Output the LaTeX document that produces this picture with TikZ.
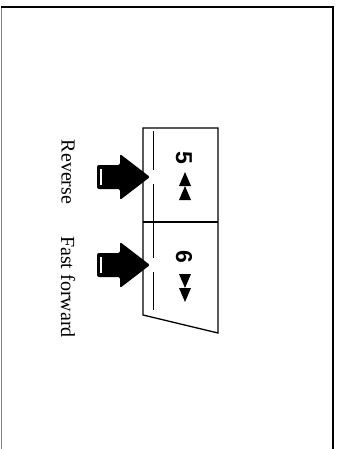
\documentclass[tikz,border=0pt]{standalone}
\usepackage{fontspec}
\setmainfont{Liberation Serif}
\setsansfont{Liberation Sans}
\begin{document}
\begin{tikzpicture}[x=1pt,y=-1pt,
  frame/.style={line width=1.4pt},
  panel/.style={line width=1.3pt},
  label/.style={rotate=-90,font=\fontsize{20}{20}\selectfont,inner sep=0pt},
  key/.style={rotate=-90,font=\sffamily\bfseries\fontsize{23}{23}\selectfont,inner sep=0pt},
  tri/.style={fill=black}]
\useasboundingbox (0,0) rectangle (339,449);
% frame
\draw[line width=0.7pt,gray] (1,449) -- (1,7);
\draw[frame] (1,7) -- (333,7) -- (333,449);
% panel
\draw[panel] (143,315) -- (143,128) -- (218,128) -- (218,333) -- cycle;
\draw[panel] (143,222) -- (218,222);
\draw[line width=1pt] (153,131) -- (153,170);
\draw[line width=1pt] (153,184) -- (153,258);
\draw[line width=1pt] (153,272) -- (153,310);
% arrows
\foreach \n/\c in {r/177,f/265}{
  \fill[rounded corners=2pt] (150,\c) -- (120,\c-23) -- (120,\c-12) -- (97,\c-12)
        -- (97,\c+12) -- (120,\c+12) -- (120,\c+23) -- cycle;
  \draw[white,line width=1.2pt] (101,\c-8) -- (101,\c+8);
  \coordinate (tip\n) at (150,\c);
}
% labels
\node[label] (rev) at (68,172) {Reverse};
\node[label] (ff) at (68,287) {Fast forward};
% keys
\node[key] (k5) at (184,158) {5};
\node[key] (k6) at (184,257) {6};
% reverse triangles (pointing up)
\fill[tri] (185,172) -- (191,186) -- (179,186) -- cycle;
\fill[tri] (185,186) -- (191,200) -- (179,200) -- cycle;
% forward triangles (pointing down)
\fill[tri] (185,302) -- (191,288) -- (179,288) -- cycle;
\fill[tri] (185,288) -- (191,274) -- (179,274) -- cycle;
\end{tikzpicture}
\end{document}
